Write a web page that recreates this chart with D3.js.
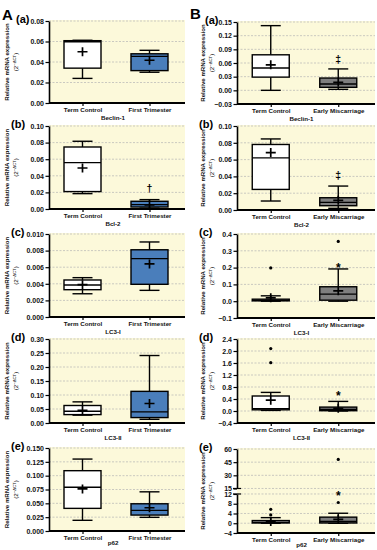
<!DOCTYPE html>
<html>
<head>
<meta charset="utf-8">
<script src="https://cdn.jsdelivr.net/npm/d3@7"></script>
<style>
  body { margin: 0; background: #fff; }
  svg text { font-family: "Liberation Sans", Arial, sans-serif; }
</style>
</head>
<body>
<div id="chart"></div>
<script>
// ---------------- data ----------------
var genes = ["Beclin-1", "Bcl-2", "LC3-I", "LC3-II", "p62"];
var tags = ["(a)", "(b)", "(c)", "(d)", "(e)"];
var groupsA = ["Term Control", "First Trimester"];
var groupsB = ["Term Control", "Early Miscarriage"];

// box stats per gene, per group: [min, q1, median, q3, max, mean]
var statsA = [
  [[0.024, 0.034, 0.0598, 0.0608, 0.0612, 0.050], [0.030, 0.0316, 0.0455, 0.048, 0.0514, 0.0417]],
  [[0.0185, 0.021, 0.0559, 0.0747, 0.0816, 0.0494], [0.001, 0.0024, 0.0053, 0.0093, 0.0113, 0.005]],
  [[0.0028, 0.00329, 0.00386, 0.00446, 0.00474, 0.0039], [0.00321, 0.00394, 0.00703, 0.0081, 0.00904, 0.0064]],
  [[0.028, 0.030, 0.042, 0.0625, 0.0755, 0.045], [0.0133, 0.0194, 0.0396, 0.113, 0.241, 0.0697]],
  [[0.0193, 0.0409, 0.079, 0.109, 0.130, 0.076], [0.0247, 0.0288, 0.0373, 0.0492, 0.0708, 0.042]]
];
var statsB = [
  [[0.0, 0.029, 0.049, 0.078, 0.142, 0.056], [0.0022, 0.0066, 0.014, 0.027, 0.047, 0.0175]],
  [[0.0107, 0.0245, 0.062, 0.078, 0.0846, 0.0684], [0.002, 0.0051, 0.0091, 0.0146, 0.0285, 0.0115]],
  [[0.0, 0.002, 0.006, 0.012, 0.032, 0.02], [0.0, 0.006, 0.042, 0.086, 0.192, 0.062]],
  [[0.02, 0.04, 0.08, 0.5, 0.62, 0.36], [0.0, 0.01, 0.055, 0.13, 0.32, 0.09]],
  [[0.0, 0.1, 0.4, 1.1, 2.3, 0.7], [0.0, 0.1, 0.7, 2.5, 4.1, 1.6]]
];
var outliersB = [
  [[], []],
  [[], []],
  [[0.198], [0.356]],
  [[2.08, 1.61], []],
  [[5.7, 3.4], [48.1, 8.5]]
];

// y axis ranges and tick labels
var domainA = [[0, 0.08], [0, 0.10], [0, 0.010], [0, 0.30], [0, 0.150]];
var ticksA = [
  [0, 0.02, 0.04, 0.06, 0.08],
  [0, 0.02, 0.04, 0.06, 0.08, 0.10],
  [0, 0.002, 0.004, 0.006, 0.008, 0.010],
  [0, 0.05, 0.10, 0.15, 0.20, 0.25, 0.30],
  [0, 0.025, 0.050, 0.075, 0.100, 0.125, 0.150]
];
var fmtA = [".2f", ".2f", ".3f", ".2f", ".3f"];
var domainB = [[-0.03, 0.15], [0, 0.10], [-0.1, 0.4], [-0.4, 2.4], [-4, 60]];
var ticksB = [
  [-0.03, 0, 0.03, 0.06, 0.09, 0.12, 0.15],
  [0, 0.02, 0.04, 0.06, 0.08, 0.10],
  [-0.1, 0, 0.1, 0.2, 0.3, 0.4],
  [-0.4, 0, 0.4, 0.8, 1.2, 1.6, 2.0, 2.4],
  [-4, 0, 4, 8, 12, 15, 30, 45, 60]
];
var fmtB = [".2f", ".2f", ".1f", ".1f", "d"];
// axis break for p62 (B): lower and upper segments
var lowSeg = [-4, 12];
var highSeg = [15, 60];

// significance marks on 2nd group
var sigA = ["", "\u2020", "", "", ""];
var sigAval = [0, 0.0246, 0, 0, 0];
var sigB = ["\u2021", "\u2021", "*", "*", "*"];
var sigBval = [0.067, 0.041, 0.226, 0.66, 13.0];

// ---------------- layout ----------------
var svgWidth = 377, svgHeight = 550;
var topA = [21, 126, 234, 339, 448], botA = [103, 209, 317, 423, 531];
var topB = [22, 126, 234, 339, 449], botB = [104, 210, 318, 423, 533];

var svg = d3.select("#chart").append("svg")
  .attr("width", svgWidth)
  .attr("height", svgHeight);

// big panel letters
svg.append("text").attr("x", 2).attr("y", 20).attr("font-size", 15).attr("font-weight", "bold").text("A");
svg.append("text").attr("x", 190).attr("y", 19).attr("font-size", 15).attr("font-weight", "bold").text("B");

function drawPanel(p) {
  var g = svg.append("g");
  var y, yLow, yHigh;
  if (p.broken) {
    var mid = p.top + (p.bot - p.top) * 0.47;
    yHigh = d3.scaleLinear().domain(highSeg).range([mid, p.top]);
    yLow = d3.scaleLinear().domain(lowSeg).range([p.bot, mid + 5.5]);
    y = function(v) { return v >= 13.5 ? yHigh(v) : yLow(v); };
  } else {
    y = d3.scaleLinear().domain(p.domain).range([p.bot, p.top]);
  }
  var x = d3.scalePoint().domain(p.groups).range([p.x0, p.x1]).padding(0.5);
  var bw = 37, cap = 20;

  // plot background
  g.append("rect")
    .attr("x", p.x0).attr("y", p.top - 1)
    .attr("width", p.xbg - p.x0).attr("height", p.bot - p.top + 1)
    .attr("fill", "#fcf9da");

  // dashed grid
  g.selectAll(".grid").data(p.ticks).enter().append("line")
    .attr("x1", p.x0).attr("x2", p.xbg)
    .attr("y1", d => y(d)).attr("y2", d => y(d))
    .attr("stroke", "#b5b5b5").attr("stroke-width", 0.7)
    .attr("stroke-dasharray", "2,1.5");

  // boxes
  p.groups.forEach(function(name, i) {
    var s = p.stats[i];
    var cx = x(name);
    var col = i == 0 ? "#fff" : p.fill2;
    // whiskers
    g.append("line").attr("x1", cx).attr("x2", cx).attr("y1", y(s[0])).attr("y2", y(s[1]))
      .attr("stroke", "#000").attr("stroke-width", 1.4);
    g.append("line").attr("x1", cx).attr("x2", cx).attr("y1", y(s[3])).attr("y2", y(s[4]))
      .attr("stroke", "#000").attr("stroke-width", 1.4);
    [s[0], s[4]].forEach(function(v) {
      g.append("line").attr("x1", cx - cap / 2).attr("x2", cx + cap / 2)
        .attr("y1", y(v)).attr("y2", y(v))
        .attr("stroke", "#000").attr("stroke-width", 1.4);
    });
    g.append("rect")
      .attr("x", cx - bw / 2).attr("y", y(s[3]))
      .attr("width", bw).attr("height", Math.max(0.5, y(s[1]) - y(s[3])))
      .attr("fill", col).attr("stroke", "#000").attr("stroke-width", 1.4);
    g.append("line").attr("x1", cx - bw / 2).attr("x2", cx + bw / 2)
      .attr("y1", y(s[2])).attr("y2", y(s[2]))
      .attr("stroke", "#000").attr("stroke-width", 1.4);
    // mean
    var my = y(s[5]);
    g.append("path")
      .attr("d", `M${cx - 5},${my}H${cx + 5}M${cx},${my - 4.5}V${my + 4.5}`)
      .attr("stroke", "#000").attr("stroke-width", 1.7);
    // outliers
    if (p.outliers) {
      g.selectAll(".out" + i).data(p.outliers[i]).enter().append("circle")
        .attr("cx", cx).attr("cy", d => y(d)).attr("r", 1.6).attr("fill", "#000");
    }
  });

  // significance mark
  if (p.sig) {
    g.append("text")
      .attr("x", x(p.groups[1])).attr("y", y(p.sigVal))
      .attr("dy", p.sig == "*" ? "0.7em" : "0.35em")
      .attr("text-anchor", "middle")
      .attr("font-size", p.sig == "*" ? 12 : 10.5).attr("font-weight", "bold")
      .text(p.sig);
  }

  // y axis
  function styleAxis(a) {
    a.select(".domain").attr("stroke-width", 1.6);
    a.selectAll(".tick line").attr("stroke-width", 1.2);
    a.selectAll(".tick text").attr("font-size", 7).attr("font-weight", "bold")
      .attr("fill", "#111").attr("font-family", "Liberation Sans, Arial, sans-serif");
  }
  var f = d3.format(p.fmt);
  if (p.broken) {
    var aH = g.append("g").attr("transform", `translate(${p.x0},0)`)
      .call(d3.axisLeft(yHigh).tickValues(p.ticks.filter(d => d >= 15)).tickFormat(f).tickSize(3.5).tickSizeOuter(0).tickPadding(1.5));
    var aL = g.append("g").attr("transform", `translate(${p.x0},0)`)
      .call(d3.axisLeft(yLow).tickValues(p.ticks.filter(d => d <= 12)).tickFormat(f).tickSize(3.5).tickSizeOuter(0).tickPadding(1.5));
    styleAxis(aH); styleAxis(aL);
    // break marks
    [yHigh(15), yLow(12)].forEach(function(v) {
      g.append("line").attr("x1", p.x0 - 4).attr("x2", p.x0 + 4)
        .attr("y1", v).attr("y2", v).attr("stroke", "#000").attr("stroke-width", 1.2);
    });
  } else {
    var ay = g.append("g").attr("transform", `translate(${p.x0},0)`)
      .call(d3.axisLeft(y).tickValues(p.ticks).tickFormat(f).tickSize(3.5).tickSizeOuter(0).tickPadding(1.5));
    styleAxis(ay);
  }

  // x axis
  var ax = g.append("g").attr("transform", `translate(0,${p.bot})`)
    .call(d3.axisBottom(x).tickSize(3).tickSizeOuter(0).tickPadding(1.8));
  ax.select(".domain").attr("d", `M${p.x0},0H${p.xbg}`).attr("stroke-width", 1.8);
  ax.selectAll(".tick line").attr("stroke-width", 1.2);
  ax.selectAll(".tick text").attr("font-size", 6.2).attr("font-weight", "bold")
    .attr("fill", "#111").attr("font-family", "Liberation Sans, Arial, sans-serif");

  // gene name under the axis
  g.append("text")
    .attr("x", (x(p.groups[0]) + x(p.groups[1])) / 2 - 3)
    .attr("y", p.bot + p.geneOff)
    .attr("text-anchor", "middle").attr("font-size", 6.2).attr("font-weight", "bold")
    .attr("fill", "#111")
    .text(p.gene);

  // panel tag
  g.append("text").attr("x", p.tagX).attr("y", p.top + 1.5)
    .attr("font-size", 11).attr("font-weight", "bold").text(p.tag);

  // y title
  var cy = (p.top + p.bot) / 2;
  g.append("text")
    .attr("transform", `translate(${p.titleX},${cy}) rotate(-90)`)
    .attr("text-anchor", "middle").attr("font-size", 6.1).attr("fill", "#111")
    .attr("font-weight", "bold")
    .text("Relative mRNA expression");
  var t2 = g.append("text")
    .attr("transform", `translate(${p.titleX + 9},${cy}) rotate(-90)`)
    .attr("text-anchor", "middle").attr("font-size", 6.1).attr("fill", "#111");
  t2.append("tspan").text("(2");
  t2.append("tspan").attr("dy", -2.2).attr("font-size", 4.3).text("\u2212\u0394CT");
  t2.append("tspan").attr("dy", 2.2).text(")");
}

genes.forEach(function(gene, i) {
  drawPanel({
    x0: 49, x1: 183, xbg: 185, top: topA[i], bot: botA[i],
    groups: groupsA, stats: statsA[i], outliers: null, fill2: "#4a7ebb",
    domain: domainA[i], ticks: ticksA[i], fmt: fmtA[i],
    sig: sigA[i], sigVal: sigAval[i], gene: gene, tag: tags[i],
    tagX: i == 0 ? 16 : 11, titleX: 9, geneOff: i == 4 ? 13.5 : 16.5, broken: false
  });
  drawPanel({
    x0: 237, x1: 372, xbg: 375, top: topB[i], bot: botB[i],
    groups: groupsB, stats: statsB[i], outliers: outliersB[i], fill2: "#7f7f7f",
    domain: domainB[i], ticks: ticksB[i], fmt: fmtB[i],
    sig: sigB[i], sigVal: sigBval[i], gene: gene, tag: tags[i],
    tagX: i == 0 ? 205 : 199, titleX: 205, geneOff: i == 4 ? 13.5 : 16.5, broken: i == 4
  });
});
</script>
</body>
</html>
